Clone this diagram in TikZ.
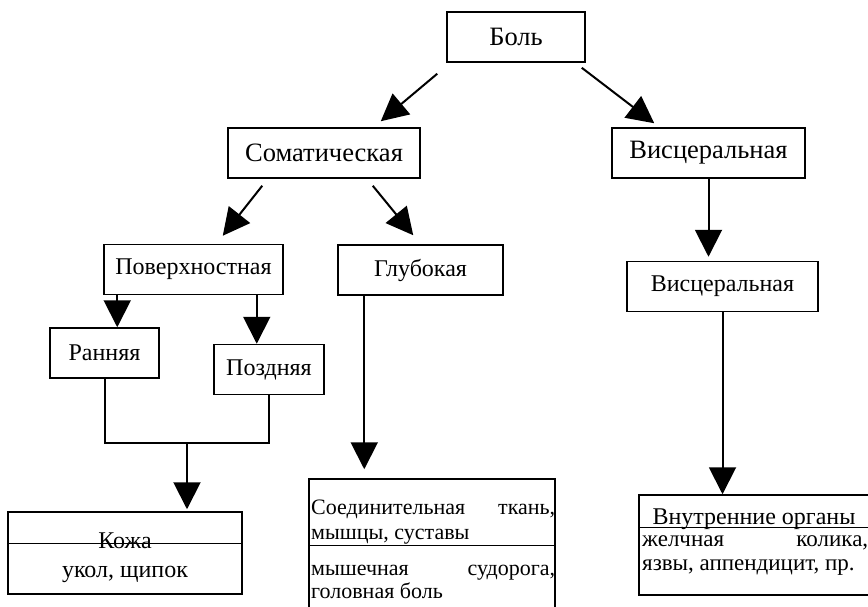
\documentclass[tikz,border=0pt]{standalone}
\usepackage{fontspec}
\setmainfont{Liberation Serif}
\usetikzlibrary{arrows.meta, calc, positioning}
\newcommand{\spreadline}[2]{\makebox[#1][s]{#2}}

\begin{document}
\begin{tikzpicture}[x=1pt, y=-1pt,
    box/.style={
        rectangle, draw, line width=1.5pt, inner sep=0pt,
        minimum height=50pt, align=center},
    big/.style={font=\fontsize{26.5}{30}\selectfont},
    mid/.style={font=\fontsize{24}{28}\selectfont},
    txt/.style={font=\fontsize{24}{27}\selectfont, inner sep=0pt},
    txtsm/.style={font=\fontsize{22}{25}\selectfont, inner sep=0pt},
    txtvn/.style={font=\fontsize{23}{25}\selectfont, inner sep=0pt},
    arr/.style={-{Triangle[length=27pt, width=27pt]}, line width=2pt},
    lnk/.style={line width=2pt},
    sep/.style={line width=1.5pt}]
  \useasboundingbox (0,0) rectangle (868,607);
  % Уровни классификации
  \node[box, big, minimum width=138pt] (bol)   at (516,37)    {Боль};
  \node[box, big, minimum width=192pt] (soma)  at (324,153)   {Соматическая};
  \node[box, big, minimum width=193pt] (visc)  at (708.5,153) {Висцеральная};
  \node[box, mid, minimum width=179pt] (pover) at (193.5,269.5) {Поверхностная};
  \node[box, mid, minimum width=165pt] (glub)  at (420.5,270) {Глубокая};
  \node[box, mid, minimum width=191pt] (viscb) at (722.5,286.5) {Висцеральная};
  \node[box, mid, minimum width=109pt] (rann)  at (104.5,353) {Ранняя};
  \node[box, mid, minimum width=110pt] (pozd)  at (269,369.5) {Поздняя};
  % Нижние блоки
  \node[box, minimum width=234pt, minimum height=82pt]  (kozha) at (125,553) {};
  \node[box, minimum width=246pt, minimum height=161pt] (soed)  at (432,559.5) {};
  \node[box, minimum width=233pt, minimum height=100pt] (vnutr) at (755.5,545) {};
  \draw[sep] ($(kozha.north west)+(0,32)$) -- ($(kozha.north east)+(0,32)$);
  \draw[sep] ($(soed.north west)+(0,67)$)  -- ($(soed.north east)+(0,67)$);
  \draw[sep] ($(vnutr.north west)+(0,33)$) -- ($(vnutr.north east)+(0,33)$);
  % Тексты нижних блоков
  \node[txt, anchor=base] (kozhaA) at (125,548) {Кожа};
  \node[txt, anchor=base] (kozhaB) at (125,577) {укол, щипок};
  \node[txtsm, anchor=base west] (soedA) at (311,514) {\spreadline{244pt}{Соединительная ткань,}};
  \node[txtsm, anchor=base west] (soedB) at (311,539) {мышцы, суставы};
  \node[txtsm, anchor=base west] (soedC) at (311,575) {\spreadline{244pt}{мышечная судорога,}};
  \node[txtsm, anchor=base west] (soedD) at (311,598) {головная боль};
  \node[txt, anchor=base] (vnA) at (754,524) {Внутренние органы};
  \node[txtvn, anchor=base west] (vnB) at (642,546) {\spreadline{226pt}{желчная колика,}};
  \node[txtvn, anchor=base west] (vnC) at (642,570) {язвы, аппендицит, пр.};
  % Стрелки
  \draw[arr] ([shift={(-9,11)}]bol.south west) -- ([shift={(-40,-6)}]soma.north east);
  \draw[arr] ([shift={(-4,5)}]bol.south east) -- ([shift={(43,-4)}]visc.north west);
  \draw[arr] ([shift={(35,7)}]soma.south west) -- ([shift={(-61,-8)}]pover.north east);
  \draw[arr] ([shift={(-48,7)}]soma.south east) -- ([shift={(76,-9)}]glub.north west);
  \coordinate (pr) at ([shift={(14,0)}]pover.south west);
  \coordinate (pp) at ([shift={(-27,0)}]pover.south east);
  \draw[arr] (pr) -- (pr |- rann.north);
  \draw[arr] (pp) -- (pp |- pozd.north);
  % Слияние к коже
  \coordinate (join) at (187,443);
  \draw[lnk] (rann.south) -- (rann.south |- join) -- (pozd.south |- join) -- (pozd.south);
  \draw[arr, shorten >=2pt] (join) -- (join |- kozha.north);
  \coordinate (gl) at ([shift={(27,0)}]glub.south west);
  \draw[arr, shorten >=9pt] (gl) -- (gl |- soed.north);
  \draw[arr, shorten >=4pt] (visc.south) -- (visc.south |- viscb.north);
  \draw[arr] (viscb.south) -- (viscb.south |- vnutr.north);
\end{tikzpicture}
\end{document}
